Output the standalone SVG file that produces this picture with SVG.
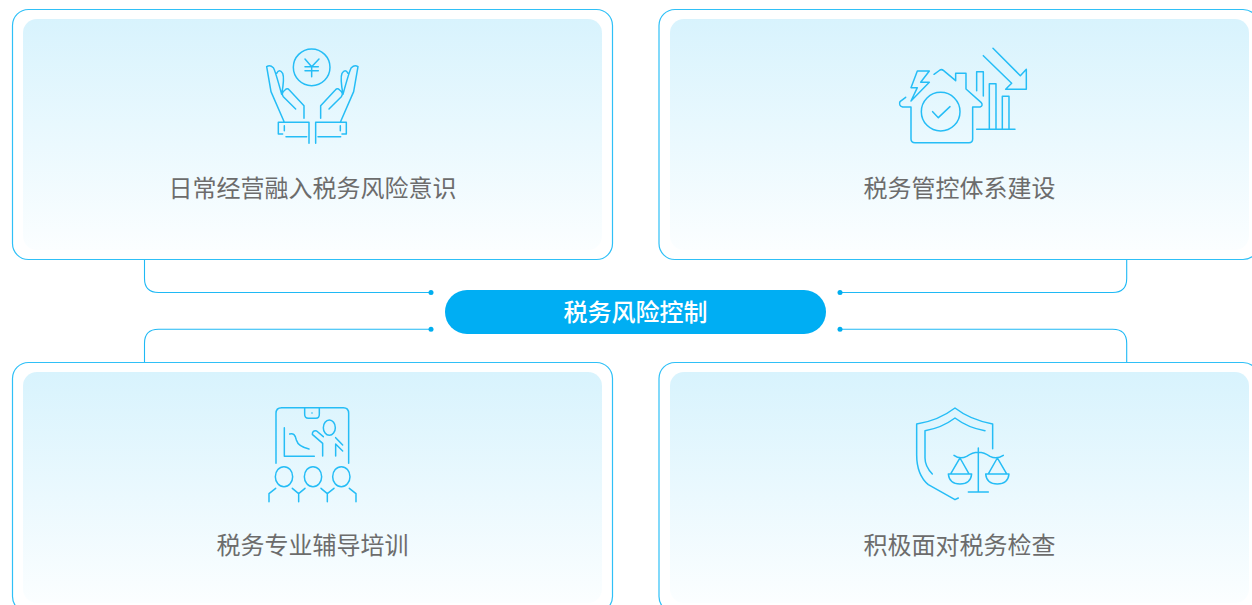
<svg xmlns="http://www.w3.org/2000/svg" width="1252" height="605" viewBox="0 0 1252 605">
<style>
.outer{fill:#fff;stroke:#2fc0f7;stroke-width:1.200}
.inner{fill:url(#g)}
.label{font-family:"Noto Sans CJK SC","Liberation Sans",sans-serif;font-size:24px;fill:#6c6c6c;text-anchor:middle}
.ic{fill:none;stroke:#25bdf6;stroke-width:4.500;stroke-linejoin:round;stroke-linecap:round}
.cn{fill:none;stroke:#1fb9f5;stroke-width:1.100}
.dot{fill:#00aeef}
</style>
<defs>
<linearGradient id="g" x1="0" y1="0" x2="0" y2="1"><stop offset="0" stop-color="#d8f3fd"/><stop offset="1" stop-color="#fbfeff"/></linearGradient>
</defs>
<rect width="1252" height="605" fill="#fff"/>
<g id="connectors">
<path class="cn" d="M144.500 259V278.500Q144.500 292.500 158.500 292.500H431"/>
<path class="cn" d="M144.500 362V343.300Q144.500 329.300 158.500 329.300H431"/>
<path class="cn" d="M1126.700 259V278.500Q1126.700 292.500 1112.700 292.500H840"/>
<path class="cn" d="M1126.700 362V343.300Q1126.700 329.300 1112.700 329.300H840"/>
<circle class="dot" cx="431" cy="292.500" r="2.500"/>
<circle class="dot" cx="431" cy="329.300" r="2.500"/>
<circle class="dot" cx="840" cy="292.500" r="2.500"/>
<circle class="dot" cx="840" cy="329.300" r="2.500"/>
</g>
<g id="card-daily">
<rect class="outer" x="12.500" y="9.500" width="600" height="250" rx="16"/>
<rect class="inner" x="23" y="19" width="579" height="231" rx="14"/>
<g transform="translate(250 35) scale(.3333)">
<circle class="ic" cx="185" cy="97" r="55"/>
<path class="ic" d="M165 72L185 95L207 72M165 95H205M165 107H205M185 95V125"/>
<path class="ic" d="M103 262L63 170L50 95Q60 88 70 98Q75 105 95 178M80 115Q88 100 98 115Q104 130 95 178M162 250V212L118 165Q112 158 105 165Q92 175 100 185L137 222M177 325V262H85V297H98M103 272V287M108 305H170"/>
<path class="ic" d="M271 262L311 170L324 95Q314 88 304 98Q299 105 279 178M294 115Q286 100 276 115Q270 130 279 178M212 250V212L256 165Q262 158 269 165Q282 175 274 185L237 222M197 325V262H289V297H276M271 272V287M204 305H272"/>
</g>
<text class="label" x="312.500" y="197">日常经营融入税务风险意识</text>
</g>
<g id="card-system">
<rect class="outer" x="659" y="9.500" width="600" height="250" rx="16"/>
<rect class="inner" x="670" y="19" width="579" height="231" rx="14"/>
<g transform="translate(885 35) scale(.3333)">
<path class="ic" d="M133 108H97L78 158H97L78 198L133 142H107Z"/>
<path class="ic" d="M147 118L165 105Q170 102 176 107L212 137V115H243V162L288 202Q296 212 285 216H263V312Q263 323 252 323H90Q78 323 78 312V216H53Q40 212 45 200L62 187"/>
<circle class="ic" cx="167" cy="230" r="58"/>
<path class="ic" d="M143 230L160 248L195 215M275 167V110H295V183M313 283V146H333V283M352 283V184H372V283M275 283H390M295 62L380 145L362 163H424V103L406 122L324 40"/>
</g>
<text class="label" x="959.500" y="197">税务管控体系建设</text>
</g>
<g id="card-training">
<rect class="outer" x="12.500" y="362.500" width="600" height="250" rx="16"/>
<rect class="inner" x="23" y="372" width="579" height="231" rx="14"/>
<g transform="translate(255 395) scale(.3333)">
<path class="ic" d="M63 205V55Q63 38 80 38H265Q281 38 281 55V205M149 38V58Q149 70 160 70H183Q193 70 193 58V38M88 98V184H178M104 117Q120 112 124 135Q130 155 162 162"/>
<circle cx="171" cy="54" r="2.500" fill="#25bdf6"/>
<ellipse class="ic" cx="223" cy="98" rx="18" ry="23"/>
<path class="ic" d="M205 125L185 108Q172 105 172 118L203 145V183M242 128L263 150M242 147L263 168M242 147V183"/>
<ellipse class="ic" cx="87" cy="245" rx="26" ry="30"/>
<ellipse class="ic" cx="174" cy="245" rx="26" ry="30"/>
<ellipse class="ic" cx="259" cy="245" rx="26" ry="30"/>
<path class="ic" d="M42 320V296L62 280M112 280L131 296L150 280M131 296V320M198 280L217 296L237 280M217 296V320M283 280L303 296V320"/>
</g>
<text class="label" x="312.500" y="554">税务专业辅导培训</text>
</g>
<g id="card-inspection">
<rect class="outer" x="659" y="362.500" width="600" height="250" rx="16"/>
<rect class="inner" x="670" y="372" width="579" height="231" rx="14"/>
<g transform="translate(905 398) scale(.3333)">
<path class="ic" d="M263 152V78Q195 65 150 30Q100 68 35 78V170Q35 230 70 260L150 305L160 300M240 98Q190 90 150 60Q110 90 60 98V180Q60 205 82 228"/>
<path class="ic" d="M220 150V280M190 282H250M147 172Q165 185 185 175Q220 150 255 175Q275 185 295 172"/>
<path class="ic" d="M130 228H200Q197 258 165 258Q133 258 130 228ZM165 180L137 228M165 180L192 228M242 228H312Q309 258 277 258Q245 258 242 228ZM277 180L250 228M277 180L305 228"/>
</g>
<text class="label" x="959.500" y="554">积极面对税务检查</text>
</g>
<g id="center">
<rect x="445" y="290" width="381" height="44" rx="22" fill="#00aef3"/>
<text x="635.500" y="321" font-family="'Noto Sans CJK SC','Liberation Sans',sans-serif" font-size="24" font-weight="500" fill="#fff" text-anchor="middle">税务风险控制</text>
</g>
</svg>
